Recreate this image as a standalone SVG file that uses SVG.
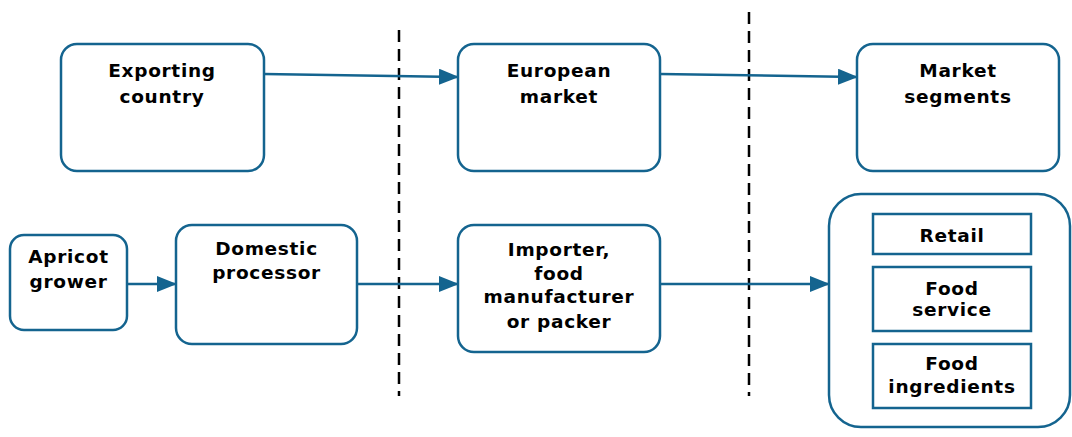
<svg xmlns="http://www.w3.org/2000/svg" width="1072" height="437" viewBox="0 0 1072 437">
<defs>
<style>
.box{fill:#fff;stroke:#14648f;stroke-width:2.5}
.seg{fill:#fff;stroke:#14648f;stroke-width:2.5}
.t{font-family:"DejaVu Sans",Verdana,sans-serif;font-weight:bold;font-size:18.5px;letter-spacing:0.7px;fill:#000;text-anchor:middle}
.conn{stroke:#14648f;stroke-width:2.5;fill:none}
.dash{stroke:#000;stroke-width:2.5;stroke-dasharray:12 7;fill:none}
</style>
<marker id="ah" markerWidth="20" markerHeight="16" refX="19" refY="8" orient="auto" markerUnits="userSpaceOnUse" viewBox="0 0 20 16">
<path d="M0,0 L20,8 L0,16 z" fill="#14648f"/>
</marker>
</defs>
<rect width="1072" height="437" fill="#fff"/>
<g id="dividers">
<line class="dash" x1="399" y1="30" x2="399" y2="396"/>
<line class="dash" x1="749" y1="12" x2="749" y2="396"/>
</g>
<g id="connectors">
<path class="conn" d="M264,74 L458,77" marker-end="url(#ah)"/>
<path class="conn" d="M660,74 L857,77" marker-end="url(#ah)"/>
<path class="conn" d="M127,284 L176,284" marker-end="url(#ah)"/>
<path class="conn" d="M357,284 L458,284" marker-end="url(#ah)"/>
<path class="conn" d="M660,284 L829,284" marker-end="url(#ah)"/>
</g>
<g id="exporting-country">
<rect class="box" x="61" y="44" width="203" height="127" rx="16"/>
<text class="t" x="162" y="77">Exporting</text>
<text class="t" x="162" y="103">country</text>
</g>
<g id="european-market">
<rect class="box" x="458" y="44" width="202" height="127" rx="16"/>
<text class="t" x="559" y="77">European</text>
<text class="t" x="559" y="103">market</text>
</g>
<g id="market-segments">
<rect class="box" x="857" y="44" width="202" height="127" rx="16"/>
<text class="t" x="958" y="77">Market</text>
<text class="t" x="958" y="103">segments</text>
</g>
<g id="apricot-grower">
<rect class="box" x="10" y="235" width="117" height="95" rx="14"/>
<text class="t" x="68.5" y="263">Apricot</text>
<text class="t" x="68.5" y="288">grower</text>
</g>
<g id="domestic-processor">
<rect class="box" x="176" y="225" width="181" height="119" rx="16"/>
<text class="t" x="266.5" y="255">Domestic</text>
<text class="t" x="266.5" y="279">processor</text>
</g>
<g id="importer">
<rect class="box" x="458" y="225" width="202" height="127" rx="16"/>
<text class="t" x="559" y="256">Importer,</text>
<text class="t" x="559" y="280">food</text>
<text class="t" x="559" y="303">manufacturer</text>
<text class="t" x="559" y="328">or packer</text>
</g>
<g id="segments-container">
<rect class="box" x="829" y="194" width="241" height="233" rx="32"/>
</g>
<g id="retail">
<rect class="seg" x="873" y="214" width="158" height="40"/>
<text class="t" x="952" y="242">Retail</text>
</g>
<g id="food-service">
<rect class="seg" x="873" y="267" width="158" height="64"/>
<text class="t" x="952" y="295">Food</text>
<text class="t" x="952" y="316">service</text>
</g>
<g id="food-ingredients">
<rect class="seg" x="873" y="344" width="158" height="64"/>
<text class="t" x="952" y="370">Food</text>
<text class="t" x="952" y="393">ingredients</text>
</g>
</svg>
